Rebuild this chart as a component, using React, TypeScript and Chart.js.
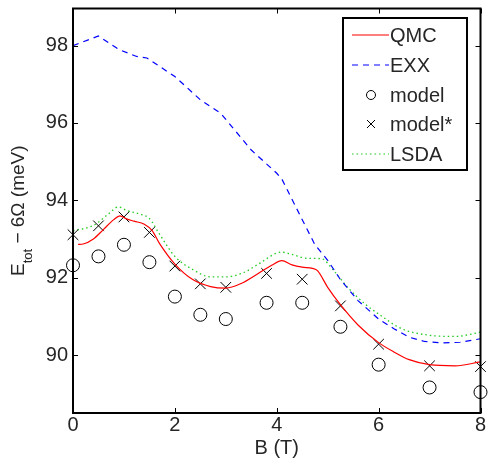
import React, { useEffect, useRef } from "react";
import { Chart, registerables } from "chart.js";

Chart.register(...registerables);

// Model points (B in T, energy in meV)
const bModel = [0, 0.5, 1, 1.5, 2, 2.5, 3, 3.8, 4.5, 5.25, 6, 7, 8];
const eModel = [92.32, 92.55, 92.85, 92.4, 91.51, 91.04, 90.93, 91.35, 91.35, 90.73, 89.75, 89.16, 89.04];
const eModelStar = [93.11, 93.34, 93.57, 93.17, 92.3, 91.84, 91.75, 92.11, 91.96, 91.27, 90.28, 89.72, 89.7];

// QMC curve
const bQmc = [0.1, 0.2, 0.4, 0.6, 0.8, 0.92, 1.05, 1.2, 1.4, 1.55, 1.7, 2.0, 2.35, 2.7, 3.0, 3.3, 3.65, 3.9, 4.1, 4.3, 4.5, 4.7, 4.8, 5.0, 5.25, 5.6, 6.0, 6.3, 6.6, 7.0, 7.5, 8.0];
const eQmc = [92.86, 92.87, 93.0, 93.25, 93.5, 93.6, 93.52, 93.46, 93.38, 93.22, 92.88, 92.35, 91.95, 91.77, 91.73, 91.85, 92.12, 92.32, 92.44, 92.33, 92.27, 92.24, 92.18, 91.75, 91.3, 90.77, 90.32, 90.08, 89.88, 89.75, 89.72, 89.82];

// EXX curve
const bExx = [0, 0.5, 0.9, 1.25, 1.45, 2.0, 2.5, 2.9, 3.5, 4.0, 4.1, 4.5, 4.75, 5.0, 5.25, 5.6, 6.0, 6.3, 6.6, 6.9, 7.25, 7.6, 8.0];
const eExx = [98.0, 98.25, 97.9, 97.72, 97.68, 97.2, 96.6, 96.25, 95.3, 94.7, 94.55, 93.5, 92.85, 92.45, 91.95, 91.4, 90.93, 90.68, 90.46, 90.35, 90.31, 90.33, 90.42];

// LSDA curve
const bLsda = [0, 0.4, 0.7, 0.89, 1.05, 1.35, 1.5, 1.7, 2.0, 2.35, 2.7, 3.0, 3.35, 3.65, 4.09, 4.3, 4.6, 4.88, 5.1, 5.4, 5.75, 6.0, 6.45, 7.0, 7.5, 8.0];
const eLsda = [93.21, 93.35, 93.65, 93.83, 93.74, 93.63, 93.53, 93.12, 92.55, 92.21, 92.02, 92.02, 92.13, 92.36, 92.66, 92.6, 92.5, 92.49, 92.21, 91.74, 91.3, 91.06, 90.68, 90.51, 90.48, 90.59];

const xTicks = [0, 2, 4, 6, 8];
const yTicks = [90, 92, 94, 96, 98];
const legendLabels = ["QMC", "EXX", "model", "model*", "LSDA"];

const FONT = "'Liberation Sans', Arial, Helvetica, sans-serif";
const RED = "#ff0000";
const BLUE = "#0000ff";
const GREEN = "#22cc22";
const TXT = "#262626";

const pts = (xs: number[], ys: number[]) => xs.map((x, i) => ({ x, y: ys[i] }));

const framePlugin = {
  id: "frameAndLegend",
  afterDraw(chart: any) {
    const ctx = chart.ctx;
    const { left, right, top, bottom } = chart.chartArea;
    const xs = chart.scales.x;
    const ys = chart.scales.y;
    ctx.save();
    // ticks inward
    ctx.strokeStyle = "#000";
    ctx.lineWidth = 1;
    const tl = 5;
    ctx.beginPath();
    xTicks.forEach((v) => {
      const px = Math.round(xs.getPixelForValue(v)) + 0.5;
      ctx.moveTo(px, bottom);
      ctx.lineTo(px, bottom - tl);
      ctx.moveTo(px, top);
      ctx.lineTo(px, top + tl);
    });
    yTicks.forEach((v) => {
      const py = Math.round(ys.getPixelForValue(v)) + 0.5;
      ctx.moveTo(left, py);
      ctx.lineTo(left + tl, py);
      ctx.moveTo(right, py);
      ctx.lineTo(right - tl, py);
    });
    ctx.stroke();
    // frame
    ctx.lineWidth = 2;
    ctx.strokeRect(left, top, right - left, bottom - top);

    // y-axis title with subscript
    const cy = (top + bottom) / 2;
    ctx.translate(24, cy);
    ctx.rotate(-Math.PI / 2);
    ctx.fillStyle = TXT;
    ctx.textBaseline = "alphabetic";
    ctx.textAlign = "left";
    const big = `19px ${FONT}`;
    const small = `13px ${FONT}`;
    const s1 = "E";
    const s2 = "tot";
    const s3 = " \u2212 6\u03A9 (meV)";
    ctx.font = big;
    const w1 = ctx.measureText(s1).width;
    const w3 = ctx.measureText(s3).width;
    ctx.font = small;
    const w2 = ctx.measureText(s2).width;
    let x0 = -(w1 + w2 + w3) / 2;
    ctx.font = big;
    ctx.fillText(s1, x0, 0);
    x0 += w1;
    ctx.font = small;
    ctx.fillText(s2, x0, 8);
    x0 += w2;
    ctx.font = big;
    ctx.fillText(s3, x0, 0);
    ctx.setTransform(1, 0, 0, 1, 0, 0);
    ctx.restore();

    // legend
    ctx.save();
    const bx = 343, by = 18, bw = 124, bh = 152;
    ctx.fillStyle = "#fff";
    ctx.fillRect(bx, by, bw, bh);
    ctx.strokeStyle = "#000";
    ctx.lineWidth = 2;
    ctx.strokeRect(bx, by, bw, bh);
    const rows = [35, 65, 95, 124, 154];
    const x1 = 352, x2 = 389, xm = 371;
    // QMC
    ctx.lineWidth = 1.2;
    ctx.strokeStyle = RED;
    ctx.setLineDash([]);
    ctx.beginPath();
    ctx.moveTo(x1, rows[0]);
    ctx.lineTo(x2, rows[0]);
    ctx.stroke();
    // EXX
    ctx.strokeStyle = BLUE;
    ctx.setLineDash([6, 5]);
    ctx.beginPath();
    ctx.moveTo(x1, rows[1]);
    ctx.lineTo(x2, rows[1]);
    ctx.stroke();
    // LSDA
    ctx.strokeStyle = GREEN;
    ctx.setLineDash([1.5, 3]);
    ctx.beginPath();
    ctx.moveTo(x1, rows[4]);
    ctx.lineTo(x2, rows[4]);
    ctx.stroke();
    ctx.setLineDash([]);
    // model circle
    ctx.strokeStyle = "#000";
    ctx.lineWidth = 1;
    ctx.beginPath();
    ctx.arc(xm, rows[2], 4.5, 0, Math.PI * 2);
    ctx.stroke();
    // model* cross
    ctx.beginPath();
    ctx.moveTo(xm - 4, rows[3] - 4);
    ctx.lineTo(xm + 4, rows[3] + 4);
    ctx.moveTo(xm - 4, rows[3] + 4);
    ctx.lineTo(xm + 4, rows[3] - 4);
    ctx.stroke();
    // labels
    ctx.fillStyle = TXT;
    ctx.font = `20px ${FONT}`;
    ctx.textBaseline = "middle";
    ctx.textAlign = "left";
    legendLabels.forEach((t, i) => ctx.fillText(t, 390, rows[i] + 1));
    ctx.restore();
  },
};

export default function App() {
  const ref = useRef<HTMLCanvasElement>(null);
  useEffect(() => {
    document.body.style.margin = "0";
    const canvas = ref.current;
    if (!canvas) return;
    const chart = new Chart(canvas, {
      type: "scatter",
      data: {
        datasets: [
          {
            label: "QMC",
            data: pts(bQmc, eQmc),
            showLine: true,
            borderColor: RED,
            borderWidth: 1.2,
            pointRadius: 0,
            cubicInterpolationMode: "monotone",
            fill: false,
          },
          {
            label: "EXX",
            data: pts(bExx, eExx),
            showLine: true,
            borderColor: BLUE,
            borderWidth: 1.2,
            borderDash: [6, 5],
            pointRadius: 0,
            tension: 0,
            fill: false,
          },
          {
            label: "model",
            data: pts(bModel, eModel),
            showLine: false,
            pointStyle: "circle",
            pointRadius: 6.5,
            borderColor: "#000",
            backgroundColor: "rgba(0,0,0,0)",
            pointBorderWidth: 1,
            clip: false as any,
          },
          {
            label: "model*",
            data: pts(bModel, eModelStar),
            showLine: false,
            pointStyle: "crossRot",
            pointRadius: 7.5,
            borderColor: "#000",
            pointBorderWidth: 1,
            clip: false as any,
          },
          {
            label: "LSDA",
            data: pts(bLsda, eLsda),
            showLine: true,
            borderColor: GREEN,
            borderWidth: 1.3,
            borderDash: [1.5, 3],
            pointRadius: 0,
            cubicInterpolationMode: "monotone",
            fill: false,
          },
        ],
      },
      options: {
        animation: false,
        responsive: false,
        layout: { padding: { left: 0, right: 6, top: 3, bottom: 0 } },
        plugins: { legend: { display: false }, tooltip: { enabled: false } },
        scales: {
          x: {
            type: "linear",
            min: 0,
            max: 8,
            afterBuildTicks: (s: any) => {
              s.ticks = xTicks.map((v) => ({ value: v }));
            },
            ticks: { color: TXT, font: { family: FONT, size: 20 }, padding: 0, maxRotation: 0 },
            grid: { display: false, drawTicks: false },
            border: { display: false },
            title: {
              display: true,
              text: "B (T)",
              color: TXT,
              font: { family: FONT, size: 20 },
              padding: { top: 0, bottom: 5 },
            },
            afterFit: (s: any) => {
              s.height = 52;
              s.paddingLeft = 0;
              s.paddingRight = 0;
            },
          },
          y: {
            type: "linear",
            min: 88.5,
            max: 98.96,
            afterBuildTicks: (s: any) => {
              s.ticks = yTicks.map((v) => ({ value: v }));
            },
            ticks: { color: TXT, font: { family: FONT, size: 20 }, padding: 5 },
            grid: { display: false, drawTicks: false },
            border: { display: false },
            afterFit: (s: any) => {
              s.width = 73;
              s.paddingTop = 0;
              s.paddingBottom = 0;
            },
          },
        },
      },
      plugins: [framePlugin],
    } as any);
    return () => chart.destroy();
  }, []);
  return (
    <div style={{ width: 489, height: 465 }}>
      <canvas ref={ref} width={489} height={465} style={{ display: "block" }} />
    </div>
  );
}
